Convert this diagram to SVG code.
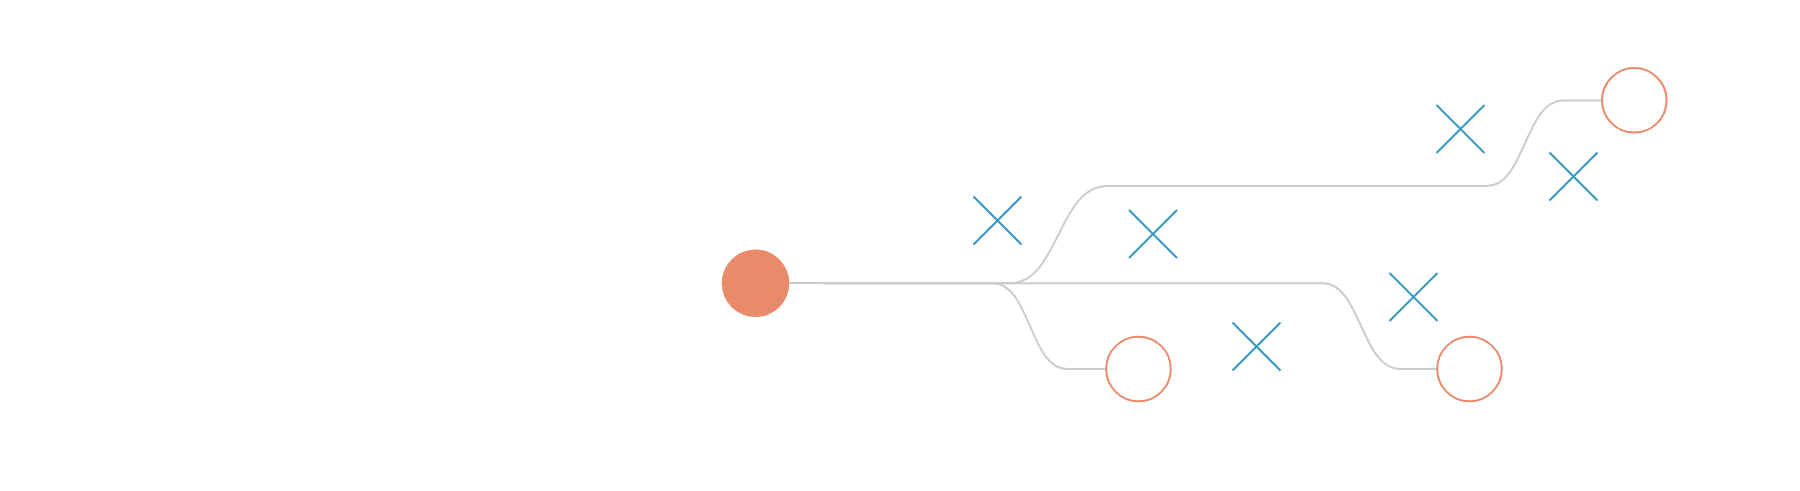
<svg xmlns="http://www.w3.org/2000/svg" width="1800" height="491" viewBox="0 0 1800 491">
  <style>
    .link { fill: none; stroke: #cccccc; stroke-width: 2; }
    .root { fill: #e98a6b; }
    .leaf { fill: #ffffff; stroke: #e98a6b; stroke-width: 2; }
    .cross { stroke: #3399c2; stroke-width: 2; fill: none; }
  </style>
  <defs>
    <path id="x" class="cross" d="M-24,-24 L24,24 M24,-24 L-24,24"/>
  </defs>
  <rect width="1800" height="491" fill="#ffffff"/>
  <g id="connectors">
    <path class="link" d="M789,283 H823"/>
    <path class="link" d="M823,283.3 H1010 C1058.5,283.3 1058.5,186 1107,186 H1487 C1525,186 1525,100.5 1563,100.5 H1602"/>
    <path class="link" d="M823,283.3 H993 C1030,283.3 1030,369 1067,369 H1106"/>
    <path class="link" d="M823,283.3 H1323 C1361,283.3 1361,369 1400,369 H1437"/>
  </g>
  <g id="root-node"><circle class="root" cx="755.5" cy="283.3" r="33.8"/></g>
  <g id="leaf-top"><circle class="leaf" cx="1634.3" cy="100.3" r="32.3"/></g>
  <g id="leaf-bottom-1"><circle class="leaf" cx="1138.5" cy="369" r="32.3"/></g>
  <g id="leaf-bottom-2"><circle class="leaf" cx="1469.5" cy="369" r="32.3"/></g>
  <g id="cross-1"><use href="#x" transform="translate(997.5,220.5)"/></g>
  <g id="cross-2"><use href="#x" transform="translate(1153,234)"/></g>
  <g id="cross-3"><use href="#x" transform="translate(1460.5,129)"/></g>
  <g id="cross-4"><use href="#x" transform="translate(1573.5,176.5)"/></g>
  <g id="cross-5"><use href="#x" transform="translate(1256.5,346.5)"/></g>
  <g id="cross-6"><use href="#x" transform="translate(1413.5,297)"/></g>
</svg>
